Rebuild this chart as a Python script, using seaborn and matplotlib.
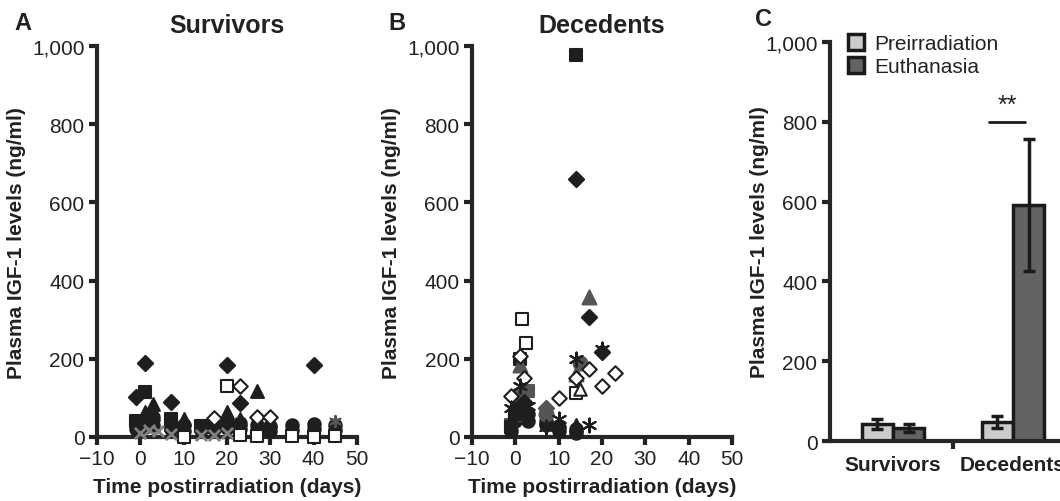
# =========================================
# PLASMA IGF-1 LEVELS: SURVIVORS vs DECEDENTS
# =========================================

import numpy as np
import pandas as pd
import matplotlib
matplotlib.use("Agg")
import matplotlib.pyplot as plt
from matplotlib.ticker import FuncFormatter
import seaborn as sns

# =========================================
# Data
# =========================================

# Panel A - survivors, one entry per marker style: (days, values)
surv_filled_diamond = ([-1, 1, 7, 20, 23, 40], [102, 190, 90, 184, 88, 185])
surv_filled_square = ([1, 1, -1, 7, 14, 17, 7], [115, 35, 42, 45, 28, 25, 30])
surv_filled_triangle = ([1, 3, 20, 27, 10, 23, 17, 30, 3], [64, 84, 64, 118, 45, 45, 42, 42, 60])
surv_filled_circle_days = [-1, -1, 1, 1, 3, 3, 7, 7, 10, 10, 14, 14, 17, 17,
                           20, 20, 23, 23, 27, 27, 30, 30, 35, 35, 40, 40, 45, 45]
surv_filled_circle_vals = [20, 35, 25, 40, 30, 50, 20, 35, 15, 30, 18, 28, 20, 35,
                           22, 35, 20, 35, 18, 30, 15, 28, 18, 30, 20, 32, 18, 30]
surv_open_square = ([20, 10, 27, 35, 40, 45, 23], [131, 0, 2, 2, 0, 2, 5])
surv_open_diamond = ([23, 17, 27, 30], [130, 48, 52, 50])
surv_gray_x = ([0, 2, 4, 7, 14, 17, 20], [10, 18, 15, 8, 5, 5, 10])
surv_asterisk = ([45], [40])

# Panel B - decedents
dec_filled_square = ([14, 1, -1, 0], [978, 200, 25, 60])
dec_filled_diamond = ([14, 17, 20, 0, 2], [660, 306, 218, 70, 90])
dec_gray_triangle = ([17, 1, 14], [359, 183, 160])
dec_asterisk = ([20, 14, 1, 10, 17, 3, -1, 7], [226, 200, 130, 45, 30, 80, 75, 25])
dec_gray_circle = ([15, 7], [190, 60])
dec_open_diamond = ([17, 23, 20, 10, 14, 1, 2, -1], [175, 165, 130, 100, 152, 208, 152, 105])
dec_open_square = ([14, 1.5, 2.5], [112, 301, 240])
dec_open_triangle = ([15], [122])
dec_gray_square = ([3, 0, -1, 1], [117, 55, 30, 95])
dec_gray_diamond = ([7, 1], [75, 110])
dec_filled_circle = ([14, 10, 3, -1, 7, 1, 2, 0, 3, 7, 10, 14],
                     [20, 15, 40, 15, 40, 80, 65, 40, 60, 30, 25, 10])
dec_filled_triangle = ([14, 0, 2], [30, 90, 100])

# Panel C - group means with SEM
groups = ["Survivors", "Decedents"]
timepoints = ["Preirradiation", "Euthanasia"]
pre_mean = [43, 47]
pre_err = [12, 15]
euth_mean = [32, 592]
euth_err = [10, 165]

y_ticks = [0, 200, 400, 600, 800, 1000]
x_ticks = [-10, 0, 10, 20, 30, 40, 50]

# =========================================
# Style
# =========================================

sns.set_style("ticks")
plt.rcParams["font.family"] = ["Liberation Sans", "DejaVu Sans"]
plt.rcParams["axes.linewidth"] = 3
plt.rcParams["text.color"] = "#222222"
plt.rcParams["axes.labelcolor"] = "#222222"

fig = plt.figure(figsize=(10.6, 5.02), dpi=100)
axA = fig.add_axes([0.0915, 0.1275, 0.2453, 0.7786])
axB = fig.add_axes([0.4453, 0.1275, 0.2453, 0.7786])
axC = fig.add_axes([0.783, 0.1195, 0.2179, 0.795])

thousands = FuncFormatter(lambda v, p: f"{int(v):,}")

DK = "#1e1e1e"
GR = "#555555"
LG = "#808080"


def pts(ax, data, marker, face, edge, size=65, lw=1.5):
    sns.scatterplot(x=data[0], y=data[1], marker=marker, s=size, color=face,
                    edgecolor=edge, linewidth=lw, ax=ax, zorder=3, clip_on=False)


def style_axis(ax):
    ax.set_ylim(0, 1000)
    ax.set_yticks(y_ticks)
    ax.yaxis.set_major_formatter(thousands)
    ax.tick_params(direction="out", length=6, width=3, labelsize=15,
                   colors="#222222", pad=3)
    sns.despine(ax=ax)
    ax.set_ylabel("Plasma IGF-1 levels (ng/ml)", fontsize=15, fontweight="bold")


# =========================================
# Panel A - Survivors
# =========================================

pts(axA, (surv_filled_circle_days, surv_filled_circle_vals), "o", DK, DK, size=80)
pts(axA, surv_filled_square, "s", DK, DK)
pts(axA, surv_filled_triangle, "^", DK, DK, size=85)
pts(axA, surv_filled_diamond, "D", DK, DK, size=60)
pts(axA, surv_open_square, "s", "white", DK)
pts(axA, surv_open_diamond, "D", "white", DK, size=55)
pts(axA, surv_gray_x, "x", LG, LG, lw=2)
pts(axA, surv_asterisk, (6, 2, 0), GR, GR, lw=1.5)

# =========================================
# Panel B - Decedents
# =========================================

pts(axB, dec_filled_circle, "o", DK, DK, size=80)
pts(axB, dec_filled_triangle, "^", DK, DK, size=85)
pts(axB, dec_gray_square, "s", GR, GR)
pts(axB, dec_gray_diamond, "D", GR, GR, size=60)
pts(axB, dec_gray_circle, "o", GR, GR, size=100)
pts(axB, dec_filled_square, "s", DK, DK)
pts(axB, dec_filled_diamond, "D", DK, DK, size=60)
pts(axB, dec_gray_triangle, "^", GR, GR, size=100)
pts(axB, dec_open_diamond, "D", "white", DK, size=55)
pts(axB, dec_open_square, "s", "white", DK)
pts(axB, dec_open_triangle, "^", "white", DK, size=80)
pts(axB, dec_asterisk, (6, 2, 0), DK, DK, size=100, lw=1.5)

for ax, title in [(axA, "Survivors"), (axB, "Decedents")]:
    style_axis(ax)
    ax.set_xlim(-10, 50)
    ax.set_xticks(x_ticks)
    ax.set_xlabel("Time postirradiation (days)", fontsize=15, fontweight="bold",
                  labelpad=6)
    ax.set_title(title, fontsize=18, fontweight="bold", pad=10)

# panel letters
fig.text(0.014, 0.954, "A", fontsize=17, fontweight="bold", va="center")
fig.text(0.366, 0.954, "B", fontsize=17, fontweight="bold", va="center")
fig.text(0.712, 0.962, "C", fontsize=17, fontweight="bold", va="center")

# =========================================
# Panel C - Bar chart
# =========================================

df = pd.DataFrame({
    "group": groups * 2,
    "time": [timepoints[0]] * 2 + [timepoints[1]] * 2,
    "igf": pre_mean + euth_mean,
})
errs = {timepoints[0]: pre_err, timepoints[1]: euth_err}

sns.barplot(data=df, x="group", y="igf", hue="time", order=groups,
            hue_order=timepoints, palette=["#cccccc", "#636363"], width=0.52,
            edgecolor="#1a1a1a", linewidth=2.5, errorbar=None, ax=axC)

centers = {}
for cont, tp in zip(axC.containers, timepoints):
    xs = [b.get_x() + b.get_width() / 2 for b in cont]
    hs = [b.get_height() for b in cont]
    centers[tp] = xs
    axC.errorbar(xs, hs, yerr=errs[tp], fmt="none", ecolor="#1a1a1a",
                 elinewidth=2.5, capsize=4, capthick=2.5, zorder=4)

# significance bar over Decedents
x0 = centers[timepoints[0]][1] - 0.07
x1 = centers[timepoints[1]][1] - 0.03
axC.plot([x0, x1], [800, 800], color="#1a1a1a", lw=2)
axC.text((x0 + x1) / 2, 812, "**", ha="center", va="bottom", fontsize=18)

style_axis(axC)
axC.set_xlim(-0.525, 1.4)
axC.set_xticks([0, 1])
axC.set_xticklabels(groups, fontsize=15, fontweight="bold")
axC.tick_params(axis="x", length=0, pad=10)
axC.set_xticks([0.5], minor=True)
axC.tick_params(axis="x", which="minor", length=6, width=3, direction="out")
axC.set_xlabel("")
axC.set_ylabel("Plasma IGF-1 levels (ng/ml)", fontsize=15, fontweight="bold",
               labelpad=-3)
axC.legend(loc="upper left", bbox_to_anchor=(0.04, 1.04), frameon=False,
           fontsize=15, handlelength=0.8, handleheight=0.8, handletextpad=0.5,
           labelspacing=0.15, borderaxespad=0)

plt.savefig("out.png", dpi=100)
